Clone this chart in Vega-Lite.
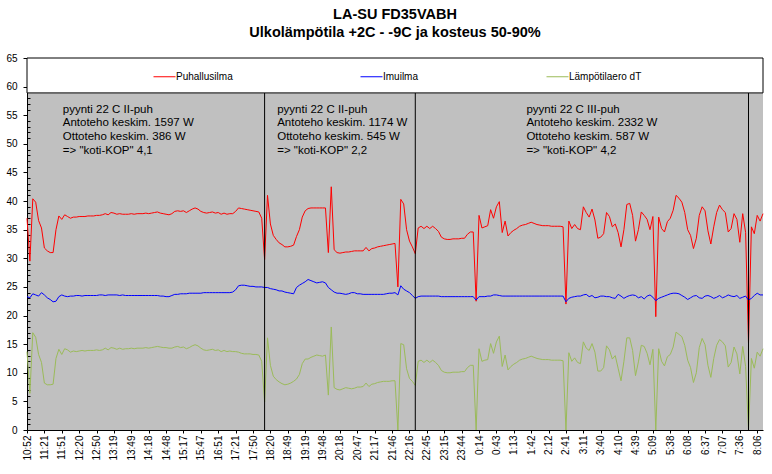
{
"$schema":"https://vega.github.io/schema/vega-lite/v6.json",
"width":736,"height":372,
"autosize":{"type":"none"},
"padding":{"left":27,"top":58,"right":9,"bottom":44},
"background":"white",
"title":{"text":["LA-SU FD35VABH","Ulkolämpötila +2C - -9C ja kosteus 50-90%"],"fontSize":14.5,"font":"Liberation Sans","fontWeight":"bold","lineHeight":18,"offset":12.5,"anchor":"middle","color":"black"},
"config":{"view":{"fill":"#c0c0c0","stroke":null},"font":"Liberation Sans",
 "axisX":{"labelAngle":270,"labelFontSize":10,"labelFont":"Liberation Sans","labelColor":"black","tickColor":"black","domainColor":"black","tickSize":3,"labelPadding":2,"grid":false,"labelOverlap":false},
 "axisY":{"grid":true,"gridColor":"black","gridWidth":1,
   "gridOpacity":{"condition":{"test":"datum.value % 5 === 0","value":0.85},"value":0},
   "tickSize":{"condition":{"test":"datum.value % 5 === 0","value":4},"value":-3},
   "labelExpr":"datum.value % 5 === 0 ? datum.label : ''",
   "tickColor":"black","domainColor":"black","labelFontSize":10,"labelFont":"Liberation Sans","labelColor":"black","labelPadding":6,"labelOverlap":false}},
"data":{"values":[
{"t":"10:52","puh":37.0,"imu":23.3,"dT":13.7},
{"t":"10:57","puh":29.5,"imu":23.1,"dT":6.4},
{"t":"11:02","puh":40.4,"imu":23.8,"dT":17.0},
{"t":"11:07","puh":39.8,"imu":23.6,"dT":16.2},
{"t":"11:12","puh":36.6,"imu":23.4,"dT":13.2},
{"t":"11:17","puh":35.3,"imu":24.0,"dT":11.8},
{"t":"11:21","puh":31.8,"imu":23.6,"dT":8.2},
{"t":"11:26","puh":31.3,"imu":23.1,"dT":7.9},
{"t":"11:31","puh":31.0,"imu":22.8,"dT":7.9},
{"t":"11:36","puh":31.0,"imu":22.4,"dT":8.0},
{"t":"11:41","puh":35.0,"imu":22.5,"dT":12.5},
{"t":"11:46","puh":37.4,"imu":23.3,"dT":14.1},
{"t":"11:51","puh":36.8,"imu":23.6,"dT":13.2,"note":"pyynti 22 C II-puh\nAntoteho keskim. 1597 W\nOttoteho keskim. 386 W\n=> \"koti-KOP\" 4,1"},
{"t":"11:56","puh":37.6,"imu":23.4,"dT":14.2},
{"t":"12:01","puh":37.3,"imu":23.3,"dT":14.0},
{"t":"12:06","puh":37.0,"imu":23.4,"dT":13.6},
{"t":"12:11","puh":37.2,"imu":23.4,"dT":13.8},
{"t":"12:16","puh":37.2,"imu":23.5,"dT":13.7},
{"t":"12:20","puh":37.3,"imu":23.5,"dT":13.8},
{"t":"12:25","puh":37.3,"imu":23.4,"dT":13.9},
{"t":"12:30","puh":37.3,"imu":23.5,"dT":13.8},
{"t":"12:35","puh":37.4,"imu":23.5,"dT":13.9},
{"t":"12:40","puh":37.4,"imu":23.5,"dT":13.9},
{"t":"12:45","puh":37.4,"imu":23.5,"dT":13.9},
{"t":"12:50","puh":37.5,"imu":23.5,"dT":14.0},
{"t":"12:55","puh":37.5,"imu":23.6,"dT":13.9},
{"t":"13:00","puh":37.6,"imu":23.6,"dT":14.0},
{"t":"13:05","puh":37.8,"imu":23.5,"dT":14.3},
{"t":"13:10","puh":37.6,"imu":23.6,"dT":14.0},
{"t":"13:15","puh":38.0,"imu":23.6,"dT":14.4},
{"t":"13:19","puh":37.9,"imu":23.6,"dT":14.3},
{"t":"13:24","puh":37.7,"imu":23.6,"dT":14.1},
{"t":"13:29","puh":37.8,"imu":23.5,"dT":14.3},
{"t":"13:34","puh":37.7,"imu":23.6,"dT":14.1},
{"t":"13:39","puh":37.7,"imu":23.5,"dT":14.2},
{"t":"13:44","puh":37.7,"imu":23.5,"dT":14.2},
{"t":"13:49","puh":37.8,"imu":23.5,"dT":14.3},
{"t":"13:54","puh":37.7,"imu":23.5,"dT":14.2},
{"t":"13:59","puh":37.8,"imu":23.5,"dT":14.3},
{"t":"14:04","puh":37.8,"imu":23.5,"dT":14.3},
{"t":"14:09","puh":37.8,"imu":23.5,"dT":14.3},
{"t":"14:14","puh":37.9,"imu":23.5,"dT":14.4},
{"t":"14:18","puh":37.8,"imu":23.5,"dT":14.3},
{"t":"14:23","puh":37.9,"imu":23.5,"dT":14.4},
{"t":"14:28","puh":38.0,"imu":23.5,"dT":14.5},
{"t":"14:33","puh":38.1,"imu":23.5,"dT":14.6},
{"t":"14:38","puh":37.9,"imu":23.4,"dT":14.5},
{"t":"14:43","puh":37.8,"imu":23.4,"dT":14.4},
{"t":"14:48","puh":37.7,"imu":23.3,"dT":14.4},
{"t":"14:53","puh":37.6,"imu":23.3,"dT":14.3},
{"t":"14:58","puh":37.8,"imu":23.5,"dT":14.3},
{"t":"15:03","puh":38.2,"imu":23.7,"dT":14.5},
{"t":"15:08","puh":38.3,"imu":23.7,"dT":14.6},
{"t":"15:13","puh":38.2,"imu":23.8,"dT":14.4},
{"t":"15:17","puh":38.3,"imu":23.8,"dT":14.5},
{"t":"15:22","puh":38.0,"imu":23.8,"dT":14.2},
{"t":"15:27","puh":38.3,"imu":23.9,"dT":14.4},
{"t":"15:32","puh":38.6,"imu":23.9,"dT":14.7},
{"t":"15:37","puh":38.8,"imu":23.9,"dT":14.9},
{"t":"15:42","puh":38.6,"imu":23.9,"dT":14.7},
{"t":"15:47","puh":38.2,"imu":23.9,"dT":14.3},
{"t":"15:52","puh":38.0,"imu":24.0,"dT":14.0},
{"t":"15:57","puh":37.9,"imu":24.0,"dT":13.9},
{"t":"16:02","puh":38.0,"imu":24.0,"dT":14.0},
{"t":"16:07","puh":38.1,"imu":24.0,"dT":14.1},
{"t":"16:12","puh":37.9,"imu":24.0,"dT":13.9},
{"t":"16:51","puh":38.0,"imu":24.0,"dT":14.0},
{"t":"16:56","puh":37.7,"imu":24.0,"dT":13.7},
{"t":"17:01","puh":37.9,"imu":24.0,"dT":13.9},
{"t":"17:06","puh":37.7,"imu":24.0,"dT":13.7},
{"t":"17:11","puh":37.8,"imu":24.0,"dT":13.8},
{"t":"17:16","puh":37.8,"imu":24.1,"dT":13.7},
{"t":"17:21","puh":38.2,"imu":24.5,"dT":13.7},
{"t":"17:26","puh":38.8,"imu":25.2,"dT":13.6},
{"t":"17:31","puh":38.7,"imu":25.3,"dT":13.4},
{"t":"17:36","puh":38.6,"imu":25.3,"dT":13.3},
{"t":"17:41","puh":38.5,"imu":25.2,"dT":13.3},
{"t":"17:46","puh":38.4,"imu":25.1,"dT":13.3},
{"t":"17:50","puh":38.3,"imu":25.1,"dT":13.2},
{"t":"17:55","puh":38.2,"imu":25.0,"dT":13.2},
{"t":"18:00","puh":38.1,"imu":25.0,"dT":13.1},
{"t":"18:05","puh":37.0,"imu":25.0,"dT":12.0},
{"t":"18:10","puh":29.8,"imu":24.9,"dT":4.9,"sep":1},
{"t":"18:15","puh":41.0,"imu":24.9,"dT":16.1},
{"t":"18:20","puh":36.0,"imu":24.7,"dT":11.3},
{"t":"18:25","puh":34.0,"imu":24.6,"dT":9.4},
{"t":"18:30","puh":33.3,"imu":24.5,"dT":8.8,"note":"pyynti 22 C II-puh\nAntoteho keskim. 1174 W\nOttoteho keskim. 545 W\n=> \"koti-KOP\" 2,2"},
{"t":"18:35","puh":32.7,"imu":24.3,"dT":8.4},
{"t":"18:40","puh":32.4,"imu":24.3,"dT":8.1},
{"t":"18:45","puh":32.0,"imu":24.1,"dT":7.9},
{"t":"18:49","puh":32.0,"imu":24.0,"dT":8.0},
{"t":"18:54","puh":32.1,"imu":23.9,"dT":8.2},
{"t":"18:59","puh":32.3,"imu":23.8,"dT":8.5},
{"t":"19:04","puh":33.8,"imu":24.9,"dT":8.9},
{"t":"19:09","puh":35.0,"imu":25.3,"dT":9.7},
{"t":"19:14","puh":37.2,"imu":25.6,"dT":11.6},
{"t":"19:19","puh":38.3,"imu":25.9,"dT":12.4},
{"t":"19:24","puh":38.7,"imu":26.3,"dT":12.4},
{"t":"19:29","puh":38.8,"imu":26.1,"dT":12.7},
{"t":"19:34","puh":38.8,"imu":25.9,"dT":12.9},
{"t":"19:39","puh":38.8,"imu":25.7,"dT":13.1},
{"t":"19:44","puh":38.8,"imu":25.8,"dT":13.0},
{"t":"19:48","puh":38.8,"imu":25.9,"dT":12.9},
{"t":"19:53","puh":38.8,"imu":25.7,"dT":13.1},
{"t":"19:58","puh":31.0,"imu":24.9,"dT":6.1},
{"t":"20:03","puh":42.5,"imu":24.5,"dT":18.0},
{"t":"20:08","puh":31.5,"imu":24.1,"dT":7.4},
{"t":"20:13","puh":31.0,"imu":23.9,"dT":7.1},
{"t":"20:18","puh":30.9,"imu":23.9,"dT":7.0},
{"t":"20:23","puh":31.0,"imu":23.8,"dT":7.2},
{"t":"20:28","puh":31.1,"imu":23.7,"dT":7.4},
{"t":"20:33","puh":31.1,"imu":23.8,"dT":7.3},
{"t":"20:38","puh":31.2,"imu":24.0,"dT":7.2},
{"t":"20:43","puh":31.3,"imu":24.0,"dT":7.3},
{"t":"20:47","puh":31.3,"imu":23.8,"dT":7.5},
{"t":"20:52","puh":31.3,"imu":23.8,"dT":7.5},
{"t":"20:57","puh":31.3,"imu":23.7,"dT":7.6},
{"t":"21:02","puh":31.9,"imu":23.7,"dT":8.2},
{"t":"21:07","puh":31.3,"imu":23.7,"dT":7.6},
{"t":"21:12","puh":31.7,"imu":23.7,"dT":8.0},
{"t":"21:17","puh":31.8,"imu":23.7,"dT":8.1},
{"t":"21:22","puh":32.0,"imu":23.7,"dT":8.3},
{"t":"21:27","puh":32.1,"imu":23.7,"dT":8.4},
{"t":"21:32","puh":32.2,"imu":23.7,"dT":8.5},
{"t":"21:37","puh":32.3,"imu":23.8,"dT":8.5},
{"t":"21:42","puh":32.4,"imu":23.9,"dT":8.5},
{"t":"21:46","puh":32.5,"imu":23.9,"dT":8.6},
{"t":"21:51","puh":32.6,"imu":24.0,"dT":8.6},
{"t":"21:56","puh":25.0,"imu":23.6,"dT":0.0},
{"t":"22:01","puh":40.3,"imu":25.2,"dT":15.1},
{"t":"22:06","puh":39.5,"imu":24.6,"dT":14.9},
{"t":"22:11","puh":35.0,"imu":24.3,"dT":10.7},
{"t":"22:16","puh":33.0,"imu":24.0,"dT":9.0},
{"t":"22:21","puh":32.0,"imu":23.5,"dT":8.5},
{"t":"22:26","puh":30.8,"imu":23.0,"dT":7.8,"sep":1},
{"t":"22:31","puh":35.3,"imu":23.3,"dT":12.0},
{"t":"22:36","puh":35.6,"imu":23.4,"dT":12.2},
{"t":"22:41","puh":35.2,"imu":23.4,"dT":11.8},
{"t":"22:45","puh":35.6,"imu":23.4,"dT":12.2},
{"t":"22:50","puh":35.2,"imu":23.4,"dT":11.8},
{"t":"22:55","puh":35.6,"imu":23.4,"dT":12.2},
{"t":"23:00","puh":35.2,"imu":23.4,"dT":11.8},
{"t":"23:05","puh":34.7,"imu":23.4,"dT":11.3},
{"t":"23:10","puh":33.7,"imu":23.3,"dT":10.4},
{"t":"23:15","puh":33.4,"imu":23.3,"dT":10.1},
{"t":"23:20","puh":33.3,"imu":23.3,"dT":10.0},
{"t":"23:25","puh":33.3,"imu":23.3,"dT":10.0},
{"t":"23:30","puh":33.4,"imu":23.3,"dT":10.1},
{"t":"23:35","puh":33.4,"imu":23.3,"dT":10.1},
{"t":"23:40","puh":33.4,"imu":23.3,"dT":10.1},
{"t":"23:44","puh":33.5,"imu":23.3,"dT":10.2},
{"t":"23:49","puh":33.5,"imu":23.3,"dT":10.2},
{"t":"23:54","puh":34.2,"imu":23.3,"dT":10.9},
{"t":"23:59","puh":34.6,"imu":23.3,"dT":11.3},
{"t":"0:04","puh":34.6,"imu":23.3,"dT":11.3},
{"t":"0:09","puh":22.5,"imu":22.7,"dT":0.0},
{"t":"0:14","puh":37.5,"imu":23.3,"dT":14.2},
{"t":"0:19","puh":35.3,"imu":23.3,"dT":12.0},
{"t":"0:24","puh":35.5,"imu":23.3,"dT":12.2},
{"t":"0:29","puh":35.7,"imu":23.4,"dT":12.3},
{"t":"0:34","puh":38.5,"imu":23.4,"dT":15.1},
{"t":"0:39","puh":37.0,"imu":23.6,"dT":13.4},
{"t":"0:43","puh":39.0,"imu":23.6,"dT":15.4},
{"t":"0:48","puh":39.9,"imu":23.5,"dT":16.4},
{"t":"0:53","puh":34.5,"imu":23.4,"dT":11.1},
{"t":"0:58","puh":36.5,"imu":23.4,"dT":13.1},
{"t":"1:03","puh":33.9,"imu":23.4,"dT":10.5},
{"t":"1:08","puh":34.5,"imu":23.4,"dT":11.1},
{"t":"1:13","puh":34.9,"imu":23.4,"dT":11.5},
{"t":"1:18","puh":35.2,"imu":23.4,"dT":11.8},
{"t":"1:23","puh":35.6,"imu":23.4,"dT":12.2},
{"t":"1:28","puh":35.8,"imu":23.4,"dT":12.4},
{"t":"1:33","puh":35.9,"imu":23.4,"dT":12.5,"note":"pyynti 22 C III-puh\nAntoteho keskim. 2332 W\nOttoteho keskim. 587 W\n=> \"koti-KOP\" 4,2"},
{"t":"1:38","puh":36.1,"imu":23.4,"dT":12.7},
{"t":"1:42","puh":36.3,"imu":23.4,"dT":12.9},
{"t":"1:47","puh":36.1,"imu":23.4,"dT":12.7},
{"t":"1:52","puh":35.9,"imu":23.4,"dT":12.5},
{"t":"1:57","puh":35.8,"imu":23.4,"dT":12.4},
{"t":"2:02","puh":35.7,"imu":23.4,"dT":12.3},
{"t":"2:07","puh":35.7,"imu":23.4,"dT":12.3},
{"t":"2:12","puh":35.7,"imu":23.4,"dT":12.3},
{"t":"2:17","puh":35.6,"imu":23.4,"dT":12.2},
{"t":"2:22","puh":35.6,"imu":23.4,"dT":12.2},
{"t":"2:27","puh":35.6,"imu":23.4,"dT":12.2},
{"t":"2:32","puh":35.6,"imu":23.4,"dT":12.2},
{"t":"2:37","puh":35.5,"imu":23.4,"dT":12.1},
{"t":"2:41","puh":22.0,"imu":22.4,"dT":0.0},
{"t":"2:46","puh":36.5,"imu":23.0,"dT":13.5},
{"t":"2:51","puh":35.2,"imu":23.2,"dT":12.0},
{"t":"2:56","puh":35.9,"imu":23.3,"dT":12.6},
{"t":"3:01","puh":35.2,"imu":23.4,"dT":11.8},
{"t":"3:06","puh":35.0,"imu":23.4,"dT":11.6},
{"t":"3:11","puh":39.0,"imu":23.6,"dT":15.4},
{"t":"3:16","puh":38.0,"imu":23.7,"dT":14.3},
{"t":"3:21","puh":37.2,"imu":23.3,"dT":13.9},
{"t":"3:26","puh":38.6,"imu":23.5,"dT":15.1},
{"t":"3:31","puh":36.7,"imu":23.1,"dT":13.6},
{"t":"3:36","puh":33.5,"imu":23.2,"dT":10.3},
{"t":"3:40","puh":33.7,"imu":23.4,"dT":10.3},
{"t":"3:45","puh":34.3,"imu":23.4,"dT":10.9},
{"t":"3:50","puh":38.0,"imu":23.3,"dT":14.7},
{"t":"3:55","puh":37.3,"imu":23.3,"dT":14.0},
{"t":"4:00","puh":35.5,"imu":23.1,"dT":12.4},
{"t":"4:05","puh":36.0,"imu":23.0,"dT":13.0},
{"t":"4:10","puh":34.5,"imu":23.7,"dT":10.8},
{"t":"4:15","puh":32.0,"imu":23.4,"dT":8.6},
{"t":"4:20","puh":35.0,"imu":23.0,"dT":12.0},
{"t":"4:25","puh":39.4,"imu":23.3,"dT":16.1},
{"t":"4:30","puh":39.6,"imu":23.5,"dT":16.1},
{"t":"4:35","puh":37.5,"imu":23.6,"dT":13.9},
{"t":"4:39","puh":33.0,"imu":23.5,"dT":9.5},
{"t":"4:44","puh":35.0,"imu":23.1,"dT":11.9},
{"t":"4:49","puh":38.1,"imu":23.3,"dT":14.8},
{"t":"4:54","puh":37.5,"imu":22.9,"dT":14.6},
{"t":"4:59","puh":36.8,"imu":23.4,"dT":13.4},
{"t":"5:04","puh":35.0,"imu":23.6,"dT":11.4},
{"t":"5:09","puh":37.3,"imu":23.2,"dT":14.1},
{"t":"5:14","puh":19.8,"imu":22.6,"dT":0.0},
{"t":"5:19","puh":37.2,"imu":23.0,"dT":14.2},
{"t":"5:24","puh":35.2,"imu":23.2,"dT":12.0},
{"t":"5:29","puh":34.6,"imu":23.4,"dT":11.2},
{"t":"5:34","puh":36.4,"imu":23.6,"dT":12.8},
{"t":"5:38","puh":37.0,"imu":23.8,"dT":13.2},
{"t":"5:43","puh":38.4,"imu":23.9,"dT":14.5},
{"t":"5:48","puh":41.0,"imu":23.9,"dT":17.1},
{"t":"5:53","puh":40.5,"imu":23.8,"dT":16.7},
{"t":"5:58","puh":39.8,"imu":23.5,"dT":16.3},
{"t":"6:03","puh":38.0,"imu":23.2,"dT":14.8},
{"t":"6:08","puh":35.0,"imu":22.8,"dT":12.2},
{"t":"6:13","puh":34.0,"imu":23.1,"dT":10.9},
{"t":"6:18","puh":31.7,"imu":23.4,"dT":8.3},
{"t":"6:23","puh":33.5,"imu":23.5,"dT":10.0},
{"t":"6:28","puh":37.5,"imu":23.1,"dT":14.4},
{"t":"6:33","puh":39.0,"imu":23.0,"dT":16.0},
{"t":"6:37","puh":38.3,"imu":23.4,"dT":14.9},
{"t":"6:42","puh":34.8,"imu":23.5,"dT":11.3},
{"t":"6:47","puh":32.5,"imu":23.3,"dT":9.2},
{"t":"6:52","puh":35.5,"imu":23.0,"dT":12.5},
{"t":"6:57","puh":38.0,"imu":23.2,"dT":14.8},
{"t":"7:02","puh":39.3,"imu":23.5,"dT":15.8},
{"t":"7:07","puh":38.5,"imu":23.1,"dT":15.4},
{"t":"7:12","puh":38.0,"imu":23.3,"dT":14.7},
{"t":"7:17","puh":34.6,"imu":23.6,"dT":11.0},
{"t":"7:22","puh":35.2,"imu":23.4,"dT":11.8},
{"t":"7:27","puh":37.8,"imu":23.3,"dT":14.5},
{"t":"7:32","puh":36.8,"imu":23.5,"dT":13.3},
{"t":"7:36","puh":32.8,"imu":23.0,"dT":9.8},
{"t":"7:41","puh":37.8,"imu":23.2,"dT":14.6},
{"t":"7:46","puh":34.5,"imu":23.4,"dT":11.1},
{"t":"7:51","puh":15.1,"imu":22.7,"dT":0.0,"sep":1},
{"t":"7:56","puh":35.5,"imu":23.0,"dT":12.5},
{"t":"8:01","puh":34.3,"imu":23.5,"dT":10.8},
{"t":"8:06","puh":37.5,"imu":23.9,"dT":13.6},
{"t":"8:11","puh":36.5,"imu":23.6,"dT":12.9},
{"t":"8:16","puh":37.8,"imu":23.6,"dT":14.2}
]},
"layer":[
{"mark":{"type":"line","strokeWidth":1},
 "encoding":{
  "x":{"field":"t","type":"ordinal","sort":null,"scale":{"type":"point","padding":0},
   "axis":{"title":null,"values":["10:52","11:21","11:51","12:20","12:50","13:19","13:49","14:18","14:48","15:17","15:47","16:51","17:21","17:50","18:20","18:49","19:19","19:48","20:18","20:47","21:17","21:46","22:16","22:45","23:15","23:44","0:14","0:43","1:13","1:42","2:12","2:41","3:11","3:40","4:10","4:39","5:09","5:38","6:08","6:37","7:07","7:36","8:06"]}},
  "y":{"field":"puh","type":"quantitative","scale":{"domain":[0,65],"nice":false,"zero":true},
   "axis":{"title":null,"values":[0,1,2,3,4,5,6,7,8,9,10,11,12,13,14,15,16,17,18,19,20,21,22,23,24,25,26,27,28,29,30,31,32,33,34,35,36,37,38,39,40,41,42,43,44,45,46,47,48,49,50,51,52,53,54,55,56,57,58,59,60,61,62,63,64,65]}},
  "color":{"datum":"Puhallusilma","type":"nominal",
   "scale":{"domain":["Puhallusilma","Imuilma","Lämpötilaero dT"],"range":["#ff0000","#0000ff","#9bbb59"]},
   "legend":{"orient":"none","legendX":126,"legendY":7,"direction":"horizontal","title":null,"symbolType":"stroke","symbolSize":484,"symbolStrokeWidth":1,"labelFontSize":10,"labelFont":"Liberation Sans","labelColor":"black","columnPadding":125,"labelOffset":0,"padding":0}},
  "order":{"value":null}}},
{"mark":{"type":"line","strokeWidth":1},
 "encoding":{
  "x":{"field":"t","type":"ordinal","sort":null,"axis":{"title":null,"values":["10:52","11:21","11:51","12:20","12:50","13:19","13:49","14:18","14:48","15:17","15:47","16:51","17:21","17:50","18:20","18:49","19:19","19:48","20:18","20:47","21:17","21:46","22:16","22:45","23:15","23:44","0:14","0:43","1:13","1:42","2:12","2:41","3:11","3:40","4:10","4:39","5:09","5:38","6:08","6:37","7:07","7:36","8:06"]}},
  "y":{"field":"imu","type":"quantitative","axis":{"title":null,"values":[0,1,2,3,4,5,6,7,8,9,10,11,12,13,14,15,16,17,18,19,20,21,22,23,24,25,26,27,28,29,30,31,32,33,34,35,36,37,38,39,40,41,42,43,44,45,46,47,48,49,50,51,52,53,54,55,56,57,58,59,60,61,62,63,64,65]}},
  "color":{"datum":"Imuilma","type":"nominal"},
  "order":{"value":null}}},
{"mark":{"type":"line","strokeWidth":1},
 "encoding":{
  "x":{"field":"t","type":"ordinal","sort":null,"axis":{"title":null,"values":["10:52","11:21","11:51","12:20","12:50","13:19","13:49","14:18","14:48","15:17","15:47","16:51","17:21","17:50","18:20","18:49","19:19","19:48","20:18","20:47","21:17","21:46","22:16","22:45","23:15","23:44","0:14","0:43","1:13","1:42","2:12","2:41","3:11","3:40","4:10","4:39","5:09","5:38","6:08","6:37","7:07","7:36","8:06"]}},
  "y":{"field":"dT","type":"quantitative","axis":{"title":null,"values":[0,1,2,3,4,5,6,7,8,9,10,11,12,13,14,15,16,17,18,19,20,21,22,23,24,25,26,27,28,29,30,31,32,33,34,35,36,37,38,39,40,41,42,43,44,45,46,47,48,49,50,51,52,53,54,55,56,57,58,59,60,61,62,63,64,65]}},
  "color":{"datum":"Lämpötilaero dT","type":"nominal"},
  "order":{"value":null}}},
{"transform":[{"filter":"datum.sep == 1"}],
 "mark":{"type":"rule","color":"black","strokeWidth":1},
 "encoding":{
  "x":{"field":"t","type":"ordinal","sort":null,"axis":{"title":null,"values":["10:52","11:21","11:51","12:20","12:50","13:19","13:49","14:18","14:48","15:17","15:47","16:51","17:21","17:50","18:20","18:49","19:19","19:48","20:18","20:47","21:17","21:46","22:16","22:45","23:15","23:44","0:14","0:43","1:13","1:42","2:12","2:41","3:11","3:40","4:10","4:39","5:09","5:38","6:08","6:37","7:07","7:36","8:06"]}},
  "y":{"datum":0,"axis":{"title":null,"values":[0,1,2,3,4,5,6,7,8,9,10,11,12,13,14,15,16,17,18,19,20,21,22,23,24,25,26,27,28,29,30,31,32,33,34,35,36,37,38,39,40,41,42,43,44,45,46,47,48,49,50,51,52,53,54,55,56,57,58,59,60,61,62,63,64,65]}},
  "y2":{"datum":58.9}}},
{"transform":[{"filter":"datum.note"}],
 "mark":{"type":"text","align":"left","baseline":"top","fontSize":11.5,"font":"Liberation Sans","lineBreak":"\n","lineHeight":13.6,"color":"black","dx":1},
 "encoding":{
  "x":{"field":"t","type":"ordinal","sort":null,"axis":{"title":null,"values":["10:52","11:21","11:51","12:20","12:50","13:19","13:49","14:18","14:48","15:17","15:47","16:51","17:21","17:50","18:20","18:49","19:19","19:48","20:18","20:47","21:17","21:46","22:16","22:45","23:15","23:44","0:14","0:43","1:13","1:42","2:12","2:41","3:11","3:40","4:10","4:39","5:09","5:38","6:08","6:37","7:07","7:36","8:06"]}},
  "y":{"datum":57.0,"axis":{"title":null,"values":[0,1,2,3,4,5,6,7,8,9,10,11,12,13,14,15,16,17,18,19,20,21,22,23,24,25,26,27,28,29,30,31,32,33,34,35,36,37,38,39,40,41,42,43,44,45,46,47,48,49,50,51,52,53,54,55,56,57,58,59,60,61,62,63,64,65]}},
  "text":{"field":"note"}}},
{"data":{"values":[{"top":65,"bottom":58.9}]},
 "mark":{"type":"rect","fill":"white","stroke":"black","strokeWidth":1},
 "encoding":{
  "y":{"field":"top","type":"quantitative","axis":{"title":null,"values":[0,1,2,3,4,5,6,7,8,9,10,11,12,13,14,15,16,17,18,19,20,21,22,23,24,25,26,27,28,29,30,31,32,33,34,35,36,37,38,39,40,41,42,43,44,45,46,47,48,49,50,51,52,53,54,55,56,57,58,59,60,61,62,63,64,65]}},
  "y2":{"field":"bottom"}}}
]
}
